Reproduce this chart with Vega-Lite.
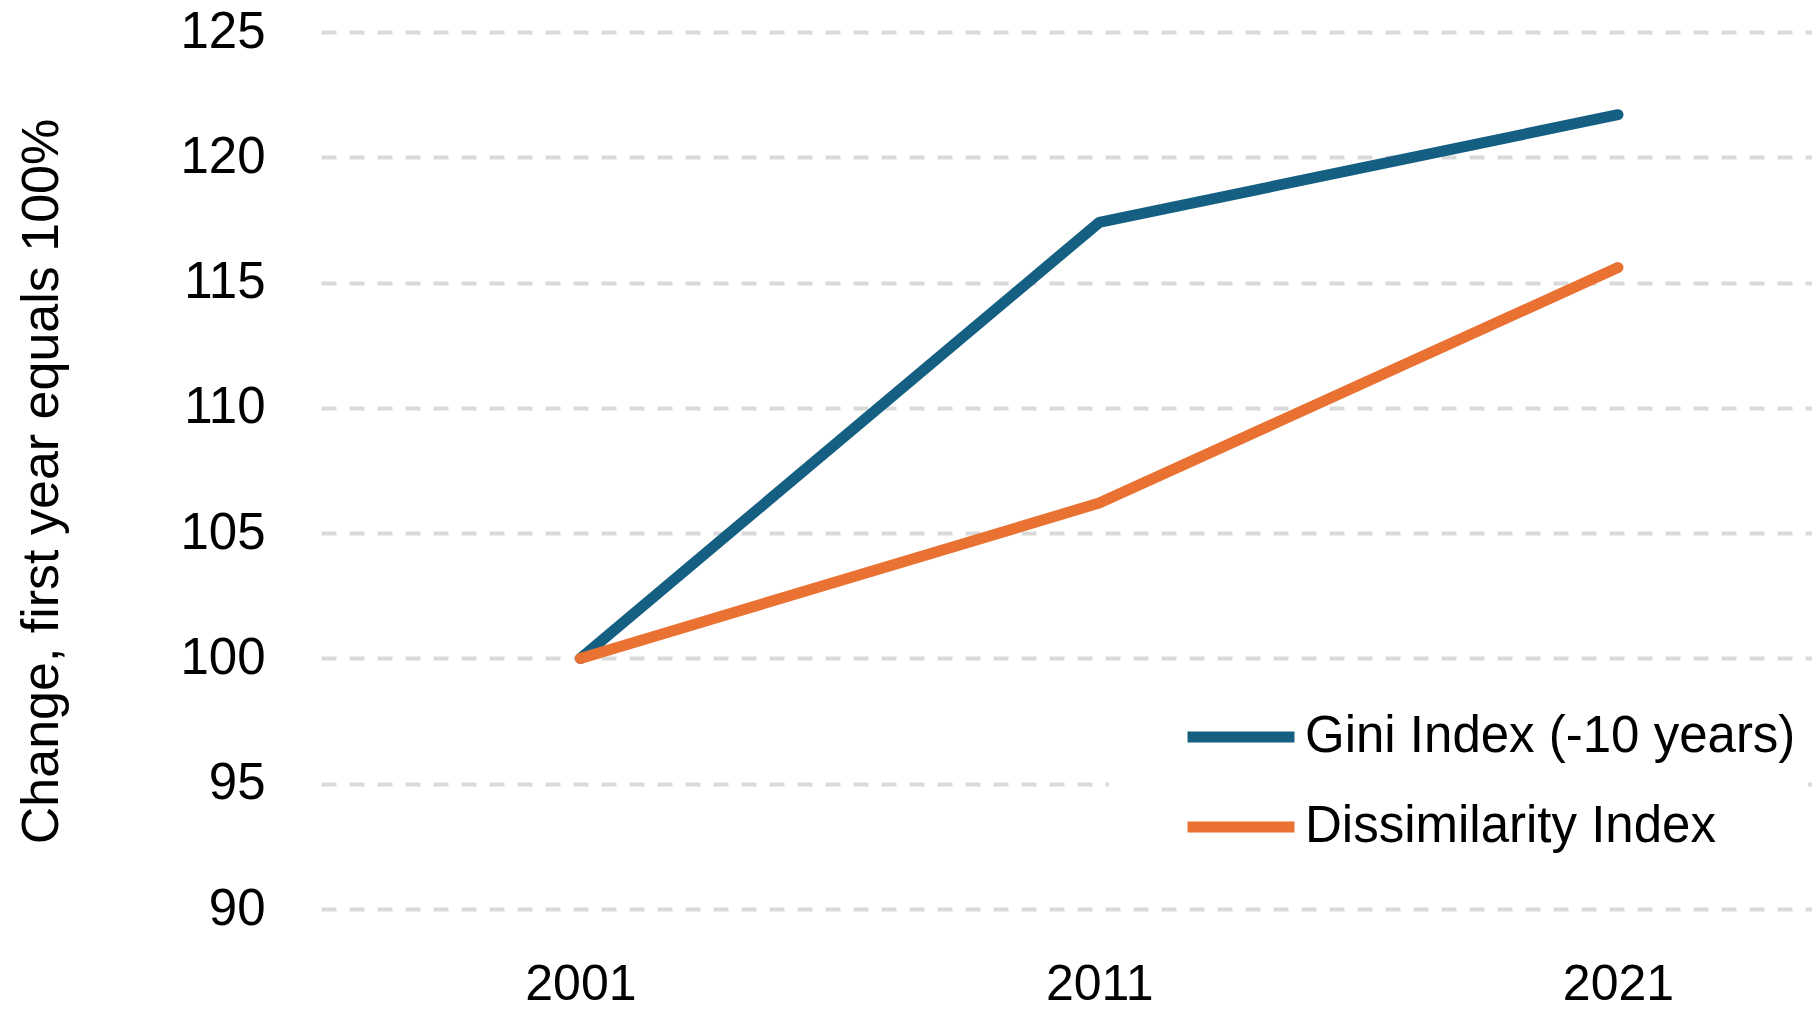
{
  "$schema": "https://vega.github.io/schema/vega-lite/v6.json",
  "width": 1491,
  "height": 877,
  "autosize": {"type": "none"},
  "padding": {"left": 321, "top": 32, "right": 0, "bottom": 101},
  "background": "white",
  "config": {"view": {"stroke": null}, "font": "Liberation Sans"},
  "data": {
    "values": [
      {"year": 2001, "series": "Gini Index (-10 years)", "value": 100},
      {"year": 2011, "series": "Gini Index (-10 years)", "value": 117.4},
      {"year": 2021, "series": "Gini Index (-10 years)", "value": 121.7},
      {"year": 2001, "series": "Dissimilarity Index", "value": 100},
      {"year": 2011, "series": "Dissimilarity Index", "value": 106.2},
      {"year": 2021, "series": "Dissimilarity Index", "value": 115.6}
    ]
  },
  "mark": {"type": "line", "strokeWidth": 11, "strokeCap": "round", "strokeJoin": "round"},
  "encoding": {
    "x": {
      "field": "year",
      "type": "quantitative",
      "scale": {"domain": [1996, 2024.74], "nice": false, "zero": false},
      "axis": {
        "values": [2001, 2011, 2021],
        "format": "d",
        "title": null,
        "grid": false,
        "domain": false,
        "ticks": false,
        "tickSize": 0,
        "labelFlush": false,
        "labelFontSize": 50,
        "labelColor": "#000000",
        "labelBaseline": "alphabetic",
        "labelPadding": 90,
        "labelFont": "Liberation Sans"
      }
    },
    "y": {
      "field": "value",
      "type": "quantitative",
      "scale": {"domain": [90, 125], "nice": false, "zero": false},
      "axis": {
        "values": [90, 95, 100, 105, 110, 115, 120, 125],
        "title": "Change, first year equals 100%",
        "grid": true,
        "gridColor": "#D9D9D9",
        "gridDash": [15, 13],
        "gridWidth": 4,
        "domain": false,
        "ticks": false,
        "tickSize": 0,
        "labelFontSize": 51,
        "labelPadding": 56,
        "labelColor": "#000000",
        "labelFont": "Liberation Sans",
        "titleFont": "Liberation Sans",
        "titleFontSize": 52,
        "titleFontWeight": "normal",
        "titleColor": "#000000",
        "titleX": -264,
        "titleY": 449,
        "titleAngle": -90,
        "titleAlign": "center",
        "titleBaseline": "alphabetic"
      }
    },
    "color": {
      "field": "series",
      "type": "nominal",
      "scale": {"domain": ["Gini Index (-10 years)", "Dissimilarity Index"], "range": ["#156082", "#E97132"]},
      "legend": {
        "title": " ",
        "titleOrient": "left",
        "titleFontSize": 10,
        "titlePadding": 61,
        "orient": "none",
        "legendX": 788,
        "legendY": 663,
        "padding": 12,
        "fillColor": "white",
        "strokeColor": null,
        "symbolType": "stroke",
        "symbolSize": 11449,
        "symbolStrokeWidth": 11,
        "labelFontSize": 51,
        "labelFont": "Liberation Sans",
        "labelColor": "#000000",
        "labelOffset": 5,
        "labelLimit": 1000,
        "clipHeight": 60,
        "rowPadding": 30
      }
    }
  }
}
